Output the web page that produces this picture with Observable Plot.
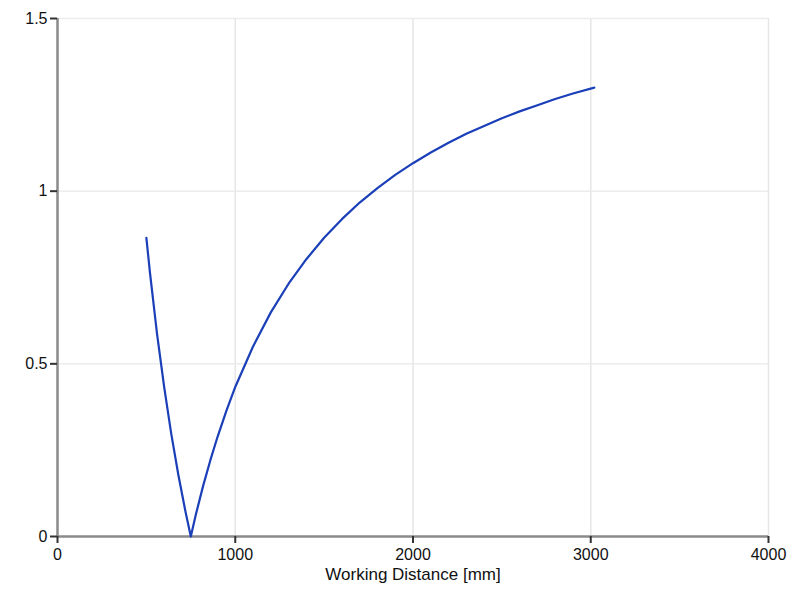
<!DOCTYPE html>
<html>
<head>
<meta charset="utf-8">
<script src="https://cdn.jsdelivr.net/npm/d3@7"></script>
<script src="https://cdn.jsdelivr.net/npm/@observablehq/plot@0.6"></script>
<style>
  html, body { margin: 0; padding: 0; background: #fff; }
  #chart svg { display: block; }
</style>
</head>
<body>
<div id="chart"></div>
<script>
const distance = [500, 520, 560, 600, 640, 680, 720, 750, 780, 820, 860, 900, 950, 1000, 1100, 1200, 1300, 1400, 1500, 1600, 1700, 1800, 1900, 2000, 2100, 2200, 2300, 2400, 2500, 2600, 2700, 2800, 2900, 3020];
const value    = [0.865, 0.765, 0.587, 0.433, 0.297, 0.178, 0.072, 0.0, 0.067, 0.148, 0.221, 0.288, 0.364, 0.433, 0.550, 0.649, 0.732, 0.803, 0.865, 0.919, 0.967, 1.009, 1.047, 1.081, 1.112, 1.140, 1.166, 1.189, 1.211, 1.231, 1.249, 1.267, 1.283, 1.300];
const xTicks = [0, 1000, 2000, 3000, 4000];
const yTicks = [0, 0.5, 1, 1.5];
const yTickLabels = ["0", "0.5", "1", "1.5"];
const xLabel = "Working Distance [mm]";

const data = distance.map((d, i) => ({x: d, y: value[i]}));

const chart = Plot.plot({
  width: 800,
  height: 600,
  marginLeft: 57,
  marginRight: 32,
  marginTop: 18,
  marginBottom: 64,
  style: {fontFamily: "'Liberation Sans', Arial, sans-serif", fontSize: "16px", color: "#222", background: "#fff"},
  x: {domain: [0, 4000]},
  y: {domain: [0, 1.5]},
  marks: [
    Plot.gridX(xTicks.filter(t => t > 0), {stroke: "#e6e6e6", strokeOpacity: 1, strokeWidth: 1.5}),
    Plot.gridY(yTicks.filter(t => t > 0), {stroke: "#ececec", strokeOpacity: 1, strokeWidth: 1.5}),
    Plot.ruleX([0], {stroke: "#8a8a8a", strokeWidth: 2.5}),
    Plot.ruleY([0], {stroke: "#8a8a8a", strokeWidth: 2.5}),
    Plot.axisX(xTicks, {tickSize: 7, tickPadding: 5, stroke: "#333", strokeWidth: 2, fontSize: 16, fill: "#111", label: null,
      tickFormat: (d) => String(d)}),
    Plot.axisY(yTicks, {tickSize: 7, tickPadding: 3, stroke: "#333", strokeWidth: 2, fontSize: 16, fill: "#111", label: null,
      tickFormat: (d) => yTickLabels[yTicks.indexOf(d)]}),
    Plot.text([xLabel], {frameAnchor: "bottom", dy: 43, fontSize: 17, fill: "#111"}),
    Plot.line(data, {x: "x", y: "y", stroke: "#1a3fb8", strokeWidth: 2.2, curve: "linear"})
  ]
});
document.getElementById("chart").appendChild(chart);
</script>
</body>
</html>
